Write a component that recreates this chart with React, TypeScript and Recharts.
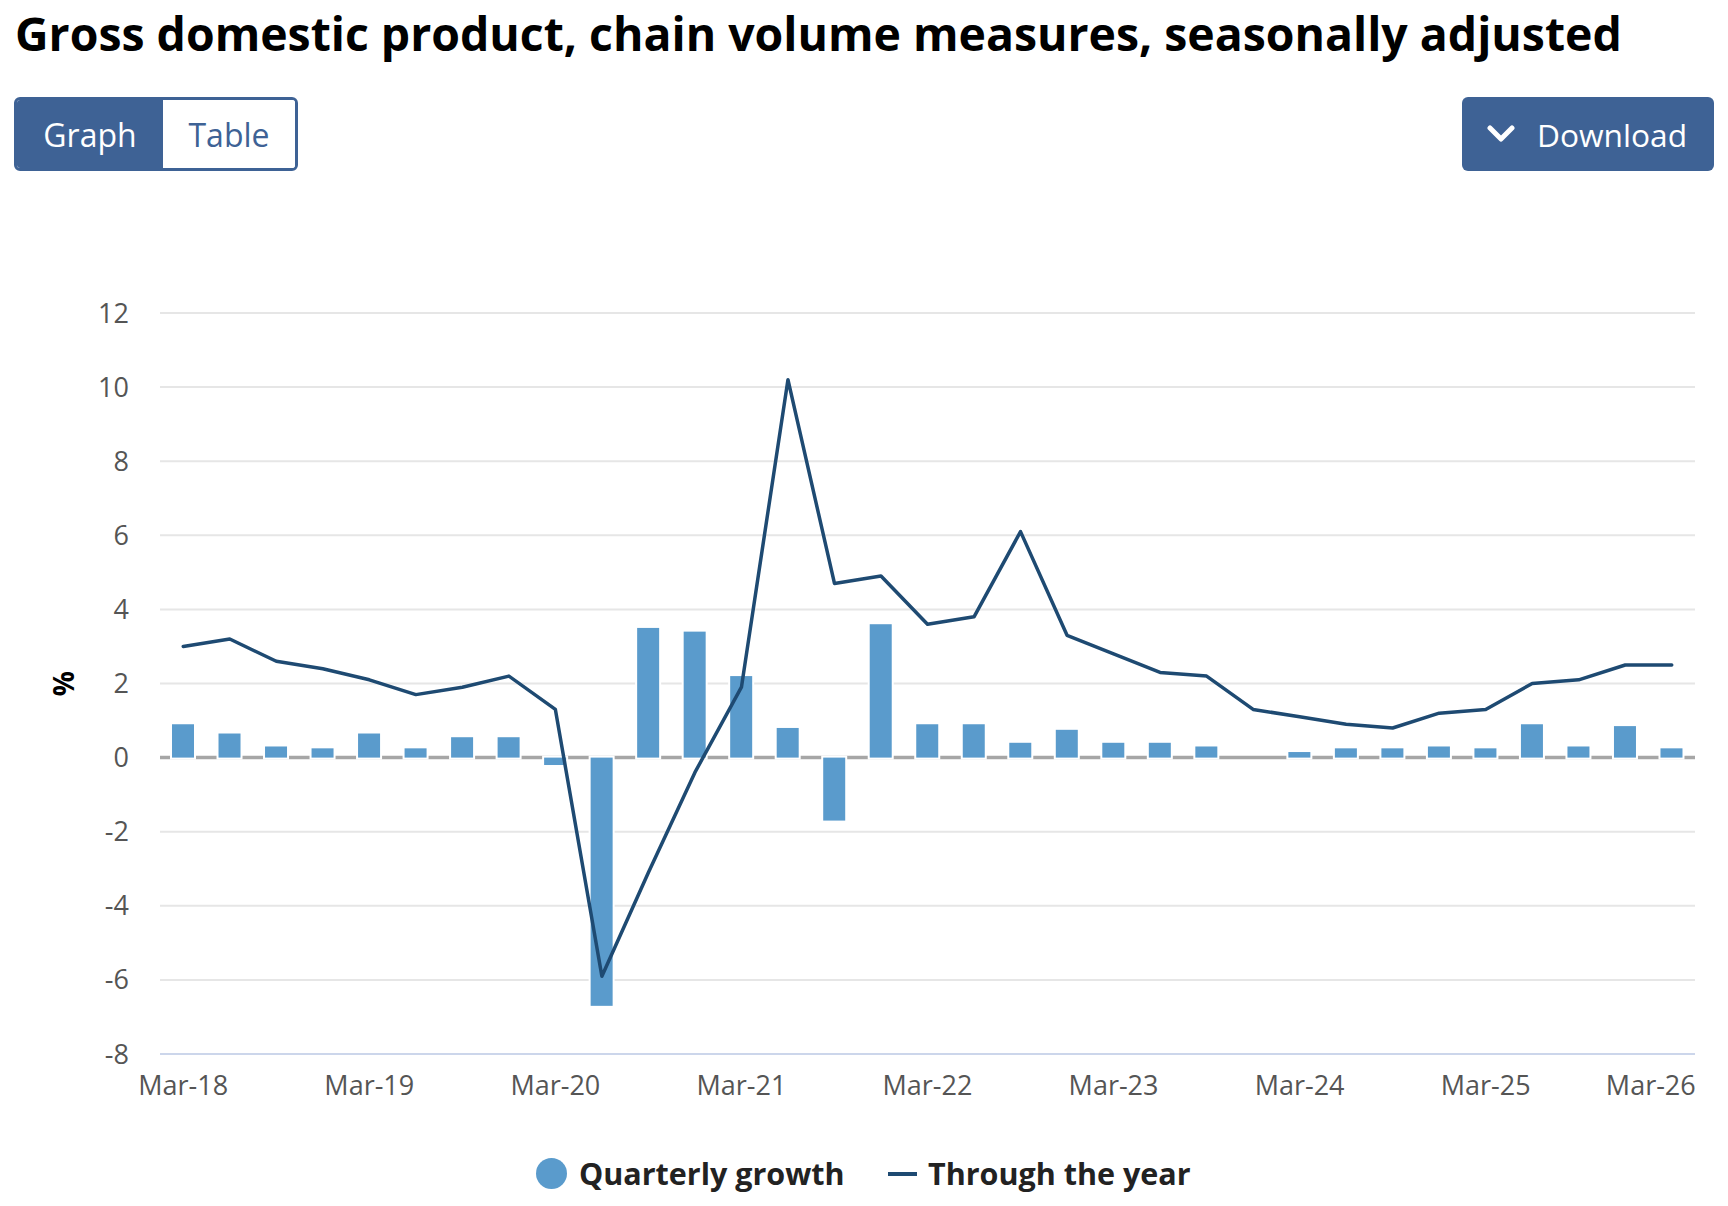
import React from 'react';
import { ComposedChart, Bar, Line, XAxis, YAxis, CartesianGrid, ReferenceLine } from 'recharts';

const quarters = [
  'Mar-18', 'Jun-18', 'Sep-18', 'Dec-18',
  'Mar-19', 'Jun-19', 'Sep-19', 'Dec-19',
  'Mar-20', 'Jun-20', 'Sep-20', 'Dec-20',
  'Mar-21', 'Jun-21', 'Sep-21', 'Dec-21',
  'Mar-22', 'Jun-22', 'Sep-22', 'Dec-22',
  'Mar-23', 'Jun-23', 'Sep-23', 'Dec-23',
  'Mar-24', 'Jun-24', 'Sep-24', 'Dec-24',
  'Mar-25', 'Jun-25', 'Sep-25', 'Dec-25',
  'Mar-26',
];

const quarterlyGrowth = [
  0.9, 0.65, 0.3, 0.25,
  0.65, 0.25, 0.55, 0.55,
  -0.2, -6.7, 3.5, 3.4,
  2.2, 0.8, -1.7, 3.6,
  0.9, 0.9, 0.4, 0.75,
  0.4, 0.4, 0.3, 0,
  0.15, 0.25, 0.25, 0.3,
  0.25, 0.9, 0.3, 0.85,
  0.25,
];

const throughTheYear = [
  3.0, 3.2, 2.6, 2.4,
  2.1, 1.7, 1.9, 2.2,
  1.3, -5.9, -3.1, -0.4,
  1.9, 10.2, 4.7, 4.9,
  3.6, 3.8, 6.1, 3.3,
  2.8, 2.3, 2.2, 1.3,
  1.1, 0.9, 0.8, 1.2,
  1.3, 2.0, 2.1, 2.5,
  2.5,
];

const yTicks = [-8, -6, -4, -2, 0, 2, 4, 6, 8, 10, 12];

const data = quarters.map((q, i) => ({
  quarter: q,
  quarterly: quarterlyGrowth[i],
  tty: throughTheYear[i],
}));

const FONT = '"Open Sans", "Noto Sans", sans-serif';
const BLUE_BTN = '#3e6295';
const BAR = '#5a9bcc';
const LINE = '#1e4a72';
const TICK = '#555555';

const XTick = (props: any) => {
  const { x, y, payload } = props;
  const isLast = payload.value === quarters[quarters.length - 1];
  return (
    <text
      x={isLast ? x + 24 : x}
      y={y}
      dy="0.71em"
      textAnchor={isLast ? 'end' : 'middle'}
      fill={TICK}
      fontSize={27}
      fontFamily={FONT}
    >
      {payload.value}
    </text>
  );
};

const YTick = (props: any) => {
  const { x, y, payload } = props;
  return (
    <text x={x} y={y} dy="0.355em" textAnchor="end" fill={TICK} fontSize={27} fontFamily={FONT}>
      {payload.value}
    </text>
  );
};

const YLabel = (props: any) => {
  const vb = props.viewBox || { x: 0, y: 0, width: 0, height: 0 };
  const cx = vb.x + 64;
  const cy = vb.y + vb.height / 2;
  return (
    <text
      x={cx}
      y={cy}
      transform={`rotate(-90, ${cx}, ${cy})`}
      textAnchor="middle"
      dy="0.355em"
      fontSize={28}
      fontWeight={700}
      fill="#000"
      fontFamily={FONT}
    >
      %
    </text>
  );
};

// Column with a white halo (like a white border drawn outside the fill)
const HaloBar = (props: any) => {
  const { x, y, width, height, fill } = props;
  if (x == null || y == null || width == null || height == null) return <g />;
  const rw = Math.abs(width);
  const rh = Math.abs(height);
  if (rh < 0.01) return <g />;
  const rx = Math.min(x, x + width);
  const ry = Math.min(y, y + height);
  return (
    <g>
      <rect x={rx - 2} y={ry - 2} width={rw + 4} height={rh + 4} fill="#ffffff" />
      <rect x={rx} y={ry} width={rw} height={rh} fill={fill} />
    </g>
  );
};

export default function App() {
  return (
    <div
      style={{
        position: 'absolute',
        left: 0,
        top: 0,
        width: 1728,
        height: 1206,
        background: '#fff',
        fontFamily: FONT,
        overflow: 'hidden',
      }}
    >
      <div style={{ position: 'absolute', left: 0, top: 0 }}>
        <ComposedChart
          width={1728}
          height={1206}
          data={data}
          margin={{ top: 313, right: 33, bottom: 92, left: 0 }}
        >
          <CartesianGrid vertical={false} stroke="#e6e6e6" strokeWidth={2} />
          <XAxis
            dataKey="quarter"
            interval={3}
            height={60}
            tickSize={0}
            tickMargin={22}
            tickLine={false}
            axisLine={{ stroke: '#ccd6eb', strokeWidth: 2 }}
            tick={<XTick />}
          />
          <YAxis
            domain={[-8, 12]}
            ticks={yTicks}
            width={160}
            tickSize={0}
            tickMargin={31}
            tickLine={false}
            axisLine={false}
            tick={<YTick />}
            label={<YLabel />}
          />
          <ReferenceLine y={0} stroke="#a6a6a6" strokeWidth={3.5} zIndex={250} />
          <Bar
            dataKey="quarterly"
            name="Quarterly growth"
            fill={BAR}
            barSize={22}
            shape={<HaloBar />}
            isAnimationActive={false}
          />
          <Line
            dataKey="tty"
            name="Through the year"
            type="linear"
            stroke={LINE}
            strokeWidth={3.5}
            strokeLinejoin="round"
            strokeLinecap="round"
            dot={false}
            activeDot={false}
            isAnimationActive={false}
          />
        </ComposedChart>
      </div>

      {/* Title */}
      <div
        style={{
          position: 'absolute',
          left: 15,
          top: 1,
          fontSize: 46.4,
          fontWeight: 700,
          color: '#000',
          whiteSpace: 'nowrap',
        }}
      >
        Gross domestic product, chain volume measures, seasonally adjusted
      </div>

      {/* Graph / Table toggle */}
      <div
        style={{
          position: 'absolute',
          left: 14,
          top: 97,
          width: 284,
          height: 74,
          boxSizing: 'border-box',
          border: `3px solid ${BLUE_BTN}`,
          borderRadius: 6,
          overflow: 'hidden',
          display: 'flex',
          fontSize: 32,
        }}
      >
        <div
          style={{
            width: 146,
            background: BLUE_BTN,
            color: '#fff',
            display: 'flex',
            alignItems: 'center',
            justifyContent: 'center',
          }}
        >
          Graph
        </div>
        <div
          style={{
            flex: 1,
            background: '#fff',
            color: BLUE_BTN,
            display: 'flex',
            alignItems: 'center',
            justifyContent: 'center',
          }}
        >
          Table
        </div>
      </div>

      {/* Download button */}
      <div
        style={{
          position: 'absolute',
          left: 1462,
          top: 97,
          width: 252,
          height: 74,
          background: BLUE_BTN,
          borderRadius: 6,
          color: '#fff',
          fontSize: 31.7,
          display: 'flex',
          alignItems: 'center',
        }}
      >
        <svg width={28} height={18} style={{ marginLeft: 25, marginRight: 22 }}>
          <polyline points="3,3 14,14 25,3" fill="none" stroke="#fff" strokeWidth={5} strokeLinecap="round" strokeLinejoin="round" />
        </svg>
        <span>Download</span>
      </div>

      {/* Legend */}
      <div
        style={{
          position: 'absolute',
          left: 536,
          top: 1158,
          width: 31,
          height: 31,
          borderRadius: '50%',
          background: BAR,
        }}
      />
      <div
        style={{
          position: 'absolute',
          left: 579,
          top: 1152,
          fontSize: 30.5,
          fontWeight: 700,
          color: '#222',
          whiteSpace: 'nowrap',
        }}
      >
        Quarterly growth
      </div>
      <div
        style={{
          position: 'absolute',
          left: 888,
          top: 1172,
          width: 29,
          height: 4,
          background: LINE,
        }}
      />
      <div
        style={{
          position: 'absolute',
          left: 928,
          top: 1152,
          fontSize: 30.5,
          fontWeight: 700,
          color: '#222',
          whiteSpace: 'nowrap',
        }}
      >
        Through the year
      </div>
    </div>
  );
}
